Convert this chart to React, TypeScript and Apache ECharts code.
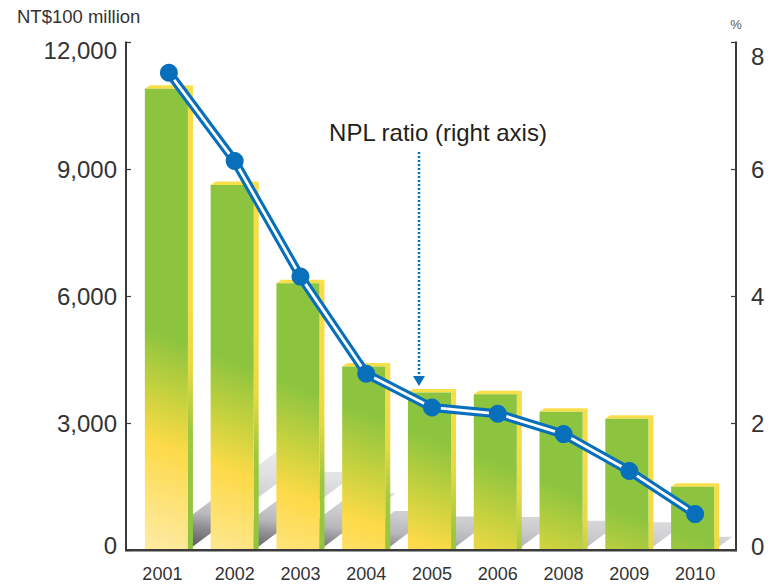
import React, { useEffect, useRef } from "react";
import * as echarts from "echarts";

// Non-performing loans of domestic banks: amount (left axis) and NPL ratio (right axis)
const years = ["2001", "2002", "2003", "2004", "2005", "2006", "2008", "2009", "2010"];
const nplAmount = [10900, 8630, 6310, 4340, 3725, 3685, 3270, 3110, 1500];
const nplRatio = [7.52, 6.13, 4.31, 2.78, 2.25, 2.15, 1.83, 1.25, 0.57];
const amountAxis = { min: 0, max: 12000, step: 3000 };
const ratioAxis = { min: 0, max: 8, step: 2 };

const W = 774;
const H = 588;
const GRID = { left: 136, right: 46, top: 42.3, bottom: 37.7 };
const LEFT_AXIS_OFFSET = 10;
const RIGHT_AXIS_OFFSET = 8;

const FONT = "'Liberation Sans', Arial, Helvetica, sans-serif";
const TEXT = "#333333";
const AXIS = "#3a3a3a";
const BLUE = "#0870bb";

// 3D bar geometry
const FRONT_RATIO = 0.655; // front face width relative to band
const SIDE_DX = 5;
const SIDE_DY = 3.5;
const SHADOW_RISE = 0.214; // shadow depth relative to bar height
const SHADOW_SLOPE = 0.75;

const withComma = (v: number) => String(v).replace(/\B(?=(\d{3})+(?!\d))/g, ",");

function barBox(api: any) {
  const idx = api.value(0);
  const val = api.value(1);
  const top = api.coord([idx, val]);
  const base = api.coord([idx, 0]);
  const band = api.size([1, 0])[0];
  const frontW = band * FRONT_RATIO;
  const xl = top[0] - (frontW + SIDE_DX) / 2;
  const xr = xl + frontW;
  return { xl, xr, yT: top[1], yB: base[1] };
}

function renderShadow(params: any, api: any) {
  const { xl, xr, yT, yB } = barBox(api);
  const cs = params.coordSys;
  const h = yB - yT;
  const dy = h * SHADOW_RISE;
  const dx = dy / SHADOW_SLOPE;
  const x0 = cs.x + 57;
  const y0 = cs.y + cs.height - 5;
  const fill = new echarts.graphic.LinearGradient(
    x0,
    y0,
    x0 + 12,
    y0 - 120,
    [
      { offset: 0, color: "#5f5f64" },
      { offset: 0.167, color: "#909095" },
      { offset: 0.267, color: "#b8b8bc" },
      { offset: 0.417, color: "#cdcdd0" },
      { offset: 0.667, color: "#e2e2e4" },
      { offset: 1, color: "#f3f3f4" },
    ],
    true
  );
  return {
    type: "polygon",
    shape: {
      points: [
        [xl, yB],
        [xr, yB],
        [xr + dx, yB - dy],
        [xl + dx, yB - dy],
      ],
    },
    style: { fill },
  };
}

function renderBar(params: any, api: any) {
  const { xl, xr, yT, yB } = barBox(api);
  const cs = params.coordSys;
  const gx0 = cs.x + 31;
  const gy0 = cs.y + cs.height - 5;
  const gx1 = gx0 + 82;
  const gy1 = gy0 - 215;
  const front = new echarts.graphic.LinearGradient(
    gx0,
    gy0,
    gx1,
    gy1,
    [
      { offset: 0, color: "#fee99c" },
      { offset: 0.4, color: "#fdda48" },
      { offset: 0.6, color: "#c9d23e" },
      { offset: 0.85, color: "#8cc43f" },
      { offset: 1, color: "#8cc43f" },
    ],
    true
  );
  const side = new echarts.graphic.LinearGradient(
    gx0,
    gy0,
    gx1,
    gy1,
    [
      { offset: 0, color: "#8cc43f" },
      { offset: 0.5, color: "#9cc83e" },
      { offset: 0.75, color: "#e8d944" },
      { offset: 1, color: "#f6dc46" },
    ],
    true
  );
  return {
    type: "group",
    children: [
      {
        type: "polygon",
        shape: {
          points: [
            [xr, yT],
            [xr + SIDE_DX, yT - SIDE_DY],
            [xr + SIDE_DX, yB],
            [xr, yB],
          ],
        },
        style: { fill: side },
      },
      {
        type: "polygon",
        shape: {
          points: [
            [xl, yT],
            [xr, yT],
            [xr + SIDE_DX, yT - SIDE_DY],
            [xl + SIDE_DX, yT - SIDE_DY],
          ],
        },
        style: { fill: "#f8df4a" },
      },
      {
        type: "rect",
        shape: { x: xl, y: yT, width: xr - xl, height: yB - yT },
        style: { fill: front },
      },
    ],
  };
}

function edgeLabel(maxShift: number, minShift: number, maxVal: number, minVal: number, fmt: (v: number) => string) {
  return {
    formatter: (v: number) => {
      const s = fmt(v);
      if (v === maxVal) return `{max|${s}}`;
      if (v === minVal) return `{min|${s}}`;
      return s;
    },
    rich: {
      max: { padding: [maxShift * 2, 0, 0, 0], fontSize: 24, color: TEXT, fontFamily: FONT },
      min: { padding: [0, 0, minShift * 2, 0], fontSize: 24, color: TEXT, fontFamily: FONT },
    },
  };
}

export default function App() {
  const ref = useRef<HTMLDivElement>(null);

  useEffect(() => {
    if (!ref.current) return;
    const chart = echarts.init(ref.current, undefined, { renderer: "svg" });
    const data = nplAmount.map((v, i) => [i, v]);
    const baseY = H - GRID.bottom;
    const leftX = GRID.left - LEFT_AXIS_OFFSET;
    const rightX = W - GRID.right + RIGHT_AXIS_OFFSET;

    chart.setOption({
      animation: false,
      backgroundColor: "#ffffff",
      grid: { ...GRID, containLabel: false },
      xAxis: {
        type: "category",
        data: years,
        boundaryGap: true,
        axisLine: { show: false },
        axisTick: {
          show: true,
          alignWithLabel: true,
          inside: true,
          length: 5,
          interval: 0,
          lineStyle: { color: "#4a4234", width: 1.5 },
        },
        axisLabel: {
          interval: 0,
          fontSize: 18,
          color: TEXT,
          fontFamily: FONT,
          margin: 15,
          formatter: (v: string, i: number) => (i === 0 ? `{first|${v}}` : v),
          rich: { first: { padding: [0, 13, 0, 0], fontSize: 18, color: TEXT, fontFamily: FONT } },
        },
        splitLine: { show: false },
      },
      yAxis: [
        {
          type: "value",
          position: "left",
          offset: LEFT_AXIS_OFFSET,
          min: amountAxis.min,
          max: amountAxis.max,
          interval: amountAxis.step,
          axisLine: { show: true, lineStyle: { color: AXIS, width: 2 } },
          axisTick: { show: true, inside: true, length: 5, lineStyle: { color: AXIS, width: 1.2 } },
          axisLabel: {
            fontSize: 24,
            color: TEXT,
            fontFamily: FONT,
            margin: 9,
            ...edgeLabel(8, 5, amountAxis.max, amountAxis.min, withComma),
          },
          splitLine: { show: false },
        },
        {
          type: "value",
          position: "right",
          offset: RIGHT_AXIS_OFFSET,
          min: ratioAxis.min,
          max: ratioAxis.max,
          interval: ratioAxis.step,
          axisLine: { show: true, lineStyle: { color: AXIS, width: 2 } },
          axisTick: { show: true, inside: true, length: 5, lineStyle: { color: AXIS, width: 1.2 } },
          axisLabel: {
            fontSize: 24,
            color: TEXT,
            fontFamily: FONT,
            margin: 15,
            ...edgeLabel(14, 4, ratioAxis.max, ratioAxis.min, (v) => String(v)),
          },
          splitLine: { show: false },
        },
      ],
      series: [
        {
          name: "shadow",
          type: "custom",
          renderItem: renderShadow,
          data,
          z: 1,
          silent: true,
        },
        {
          name: "NPL amount",
          type: "custom",
          renderItem: renderBar,
          data,
          z: 2,
        },
        {
          name: "NPL ratio",
          type: "line",
          yAxisIndex: 1,
          data: nplRatio,
          symbol: "none",
          lineStyle: { color: BLUE, width: 9, opacity: 1 },
          z: 3,
        },
        {
          name: "NPL ratio inner",
          type: "line",
          yAxisIndex: 1,
          data: nplRatio,
          symbol: "none",
          lineStyle: { color: "#ffffff", width: 2.8, opacity: 1 },
          z: 4,
          silent: true,
        },
        {
          name: "NPL ratio points",
          type: "scatter",
          yAxisIndex: 1,
          data: nplRatio,
          symbol: "circle",
          symbolSize: 18,
          itemStyle: { color: BLUE, opacity: 1 },
          z: 5,
        },
      ],
      graphic: [
        {
          type: "line",
          shape: { x1: leftX - 1, y1: baseY, x2: rightX + 1, y2: baseY },
          style: { stroke: AXIS, lineWidth: 2.5 },
          z: 10,
        },
        {
          type: "text",
          left: 17,
          top: 7,
          style: { text: "NT$100 million", fontSize: 18.5, fill: TEXT, fontFamily: FONT },
        },
        {
          type: "text",
          x: rightX,
          y: 24,
          style: {
            text: "%",
            fontSize: 13,
            fill: "#555555",
            fontFamily: FONT,
            align: "center",
            verticalAlign: "middle",
          },
        },
        {
          type: "text",
          x: 438,
          y: 132,
          style: {
            text: "NPL ratio (right axis)",
            fontSize: 24,
            fill: "#231f20",
            fontFamily: FONT,
            align: "center",
            verticalAlign: "middle",
          },
        },
        {
          type: "line",
          shape: { x1: 419, y1: 152, x2: 419, y2: 377 },
          style: { stroke: BLUE, lineWidth: 2.5, lineDash: [2, 2] },
        },
        {
          type: "polygon",
          shape: { points: [[413, 376], [425, 376], [419, 386]] },
          style: { fill: BLUE },
        },
      ],
    });

    return () => chart.dispose();
  }, []);

  return (
    <div
      ref={ref}
      style={{ position: "absolute", left: 0, top: 0, width: W, height: H, background: "#fff" }}
    />
  );
}
